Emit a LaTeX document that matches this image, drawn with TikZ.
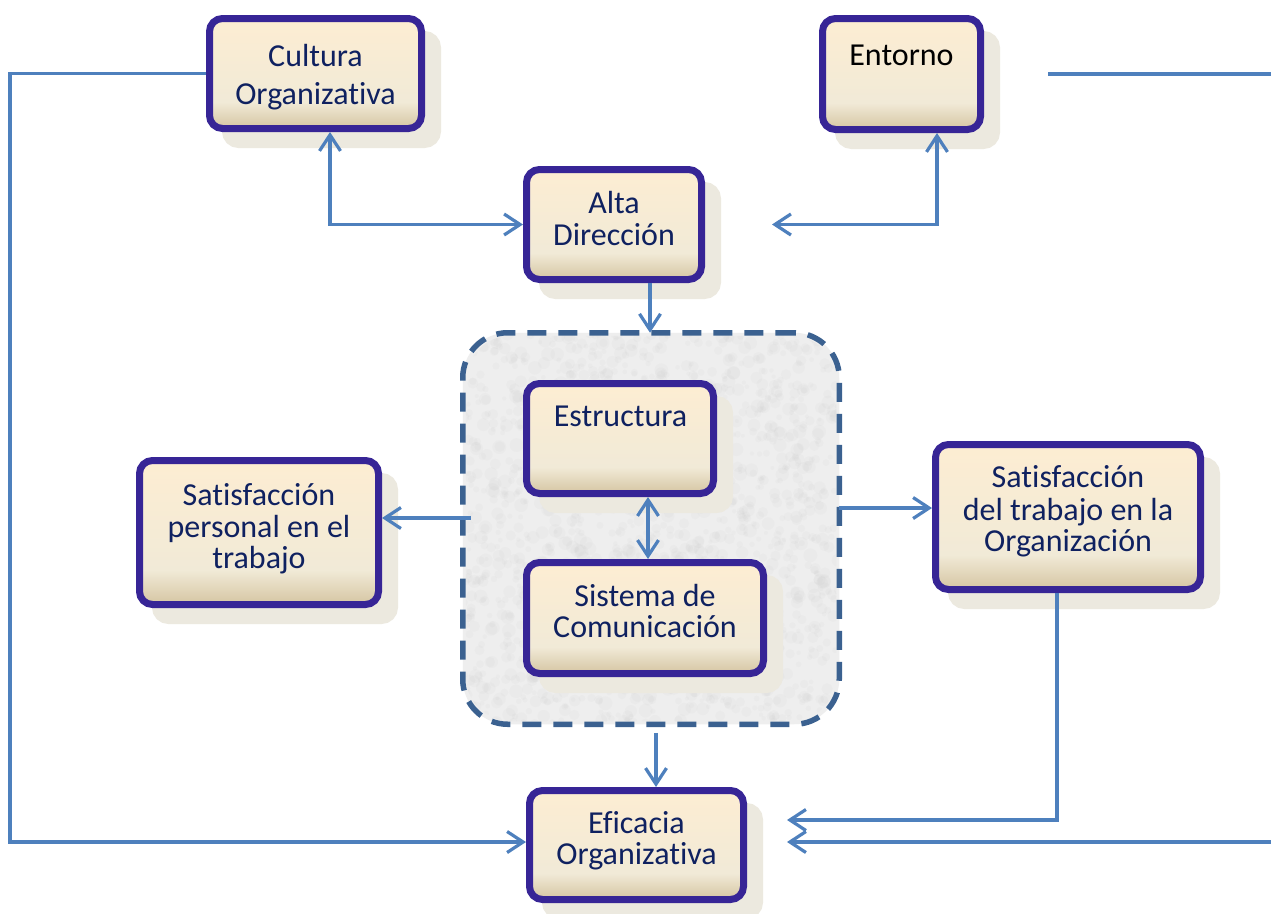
\documentclass[tikz,border=0pt]{standalone}
\usepackage{fontspec}
\setmainfont{Carlito}[Ligatures=NoCommon]
\usetikzlibrary{arrows.meta,shadows}
\definecolor{bxline}{HTML}{372596}
\definecolor{bxtop}{HTML}{FDEDD2}
\definecolor{bxmid}{HTML}{F1EAD7}
\definecolor{bxbot}{HTML}{D5C5A2}
\definecolor{shcol}{HTML}{ECE9DF}
\definecolor{txtcol}{HTML}{0F2160}
\definecolor{conncol}{HTML}{4E80BD}
\definecolor{dashcol}{HTML}{3B6190}
\definecolor{grpfill}{HTML}{EEEEEE}
\pgfdeclareverticalshading{boxsh}{100bp}{color(0bp)=(bxbot); color(25bp)=(bxbot); color(37bp)=(bxmid); color(75bp)=(bxtop); color(100bp)=(bxtop)}
\tikzset{
  box/.style={draw=bxline, line width=7pt, rounded corners=13pt, shade, shading=boxsh, inner sep=0pt,
    general shadow={fill=shcol, draw=shcol, line width=7pt, shadow xshift=16pt, shadow yshift=-16pt}},
  grp/.style={draw=dashcol, line width=5.5pt, dash pattern=on 19pt off 12pt, rounded corners=45pt, fill=grpfill, outer sep=0pt},
  txt/.style={font=\fontsize{32}{33}\selectfont, text=txtcol, inner sep=0pt, anchor=base},
  conn/.style={draw=conncol, line width=3.2pt},
  >={Straight Barb[length=16pt,width=21pt]}
}
\begin{document}
\begin{tikzpicture}[x=1pt,y=-1pt]
\useasboundingbox[fill=white] (0,0) rectangle (1271,913);
% container
\node[grp, minimum width=376.5pt, minimum height=391.5pt] (grp) at (651,528.5) {};
\begin{scope}
\pgfmathsetseed{7}
\clip[rounded corners=45pt] ([shift={(3pt,3pt)}]grp.south west) rectangle ([shift={(-3pt,-3pt)}]grp.north east);
\foreach \i in {1,...,1600} {\fill[black!60, opacity=0.025] (462+377*rnd, 332+392*rnd) circle (2+5*rnd);}
\end{scope}
% boxes
\node[box, minimum width=212pt, minimum height=110pt] (cult) at (315.5,73.5) {};
\node[box, minimum width=158pt, minimum height=111pt] (ento) at (901.5,74) {};
\node[box, minimum width=175pt, minimum height=110pt] (alta) at (614,224.5) {};
\node[box, minimum width=187pt, minimum height=110pt] (estr) at (620,438.5) {};
\node[box, minimum width=237pt, minimum height=111pt] (sist) at (645,618) {};
\node[box, minimum width=214pt, minimum height=109pt] (efic) at (636.5,845) {};
\node[box, minimum width=239pt, minimum height=144pt] (satp) at (259,532.5) {};
\node[box, minimum width=265pt, minimum height=145pt] (satt) at (1068,517) {};
% texts
\node[txt] (cult1) at (315.5,66) {Cultura};
\node[txt] (cult2) at (315.5,104) {Organizativa};
\node[txt, text=black] (ento1) at (901.5,65) {Entorno};
\node[txt] (alta1) at (614,213) {Alta};
\node[txt] (alta2) at (614,245) {Dirección};
\node[txt] (estr1) at (620.5,426) {Estructura};
\node[txt] (sist1) at (645,606) {Sistema de};
\node[txt] (sist2) at (645,637) {Comunicación};
\node[txt] (efic1) at (636.5,833) {Eficacia};
\node[txt] (efic2) at (636.5,864) {Organizativa};
\node[txt] (satp1) at (259,505) {Satisfacción};
\node[txt] (satp2) at (259,537) {personal en el};
\node[txt] (satp3) at (259,568) {trabajo};
\node[txt] (satt1) at (1068,487) {Satisfacción};
\node[txt] (satt2) at (1068,520) {del trabajo en la};
\node[txt] (satt3) at (1068,551) {Organización};
% coordinates
\coordinate (lft) at (10,73.5);
\coordinate (entend) at (772,224.5);
\coordinate (rtA) at (1048,74);
\coordinate (rtB) at (1275,74);
\coordinate (rtC) at (1275,842);
\coordinate (effr1) at (787,820);
\coordinate (effr2) at (787,842);
\coordinate (sp) at ([yshift=14.5pt]satp.east);
\coordinate (tp) at ([yshift=9pt]satt.west);
\coordinate (ep) at ([xshift=19.5pt]efic.north);
% connectors
\draw[conn,->] (cult.west) -- (lft) |- ([yshift=3pt]efic.west);
\draw[conn,<->] ([xshift=14.5pt]cult.south) |- (alta.west);
\draw[conn,<->] ([xshift=35.5pt]ento.south) |- (entend);
\draw[conn] (rtA) -- (rtB);
\draw[conn,->] ([xshift=-11pt]satt.south) |- (effr1);
\draw[conn,->] (rtC) -- (effr2);
\draw[conn,->] ([xshift=36pt]alta.south) -- ([xshift=36pt]alta.south |- grp.north);
\draw[conn,<->] ([xshift=28pt]estr.south) -- ([xshift=28pt]estr.south |- sist.north);
\draw[conn,->] ([xshift=8pt]grp.west |- sp) -- (sp);
\draw[conn,->] (grp.east |- tp) -- (tp);
\draw[conn,->] ([yshift=-8.5pt]grp.south -| ep) -- (ep);
\end{tikzpicture}
\end{document}
